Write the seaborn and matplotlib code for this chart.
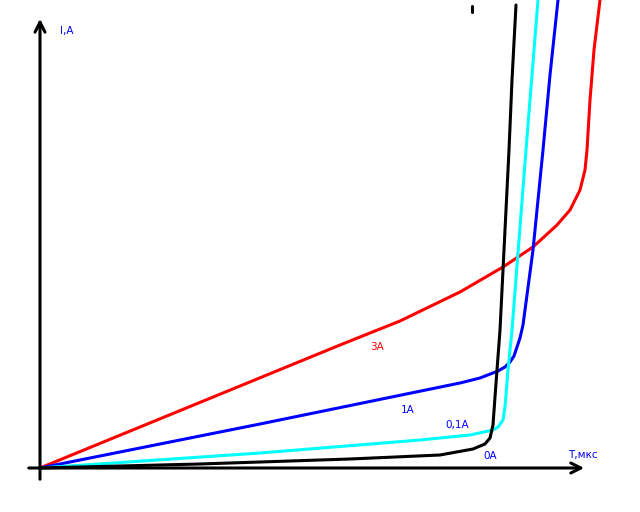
import numpy as np
import matplotlib
matplotlib.use('Agg')
import matplotlib.pyplot as plt
import seaborn as sns

# curves (pixel-like coordinates, origin at 40,468)
x_0a = [40, 200, 350, 440, 473, 485, 490, 493, 495, 497, 500, 509, 512, 516]
y_0a = [468, 464, 459, 455, 449, 444, 438, 425, 397, 370, 330, 150, 80, 5]

x_01a = [40, 260, 420, 470, 493, 498, 503, 505, 508, 512, 526, 532, 538]
y_01a = [468, 453, 440, 435, 430, 427, 420, 407, 370, 330, 150, 75, 0]

x_1a = [40, 260, 460, 480, 498, 505, 510, 514, 517, 520, 523, 533, 543, 550, 558]
y_1a = [468, 424, 383, 378, 371, 367, 362, 356, 347, 338, 325, 250, 150, 75, 0]

x_3a = [40, 340, 400, 460, 503, 533, 557, 570, 580, 585, 587, 590, 594, 600]
y_3a = [468, 345, 321, 292, 267, 247, 225, 210, 190, 170, 150, 100, 50, 0]

labels = ['0А', '0,1А', '1А', '3А']
colors = ['black', 'cyan', 'blue', 'red']

sns.set_style('white')
fig = plt.figure(figsize=(6.4, 5.12), dpi=100)
ax = fig.add_axes([0, 0, 1, 1])
ax.set_xlim(0, 640)
ax.set_ylim(512, 0)
ax.axis('off')

curves = [(x_3a, y_3a), (x_1a, y_1a), (x_01a, y_01a), (x_0a, y_0a)]
for (xs, ys), c in zip(curves, colors[::-1]):
    sns.lineplot(x=xs, y=ys, sort=False, estimator=None, color=c, lw=2.2, ax=ax)

# axes with arrows
ax.annotate('', xy=(40, 16), xytext=(40, 482),
            arrowprops=dict(arrowstyle='->', lw=2.2, color='black', mutation_scale=18))
ax.annotate('', xy=(587, 468), xytext=(26, 468),
            arrowprops=dict(arrowstyle='->', lw=2.2, color='black', mutation_scale=18))
ax.plot([472, 472], [6, 12], color='black', lw=2.2)

fs = 7.5
ax.text(60, 31, 'I,A', color='blue', fontsize=fs, va='center')
ax.text(568, 455, 'T,мкс', color='blue', fontsize=fs, va='center')
ax.text(490, 456, labels[0], color='blue', fontsize=fs, va='center', ha='center')
ax.text(457, 425, labels[1], color='blue', fontsize=fs, va='center', ha='center')
ax.text(408, 410, labels[2], color='blue', fontsize=fs, va='center', ha='center')
ax.text(377, 347, labels[3], color='red', fontsize=fs, va='center', ha='center')

fig.savefig('out.png', dpi=100)
